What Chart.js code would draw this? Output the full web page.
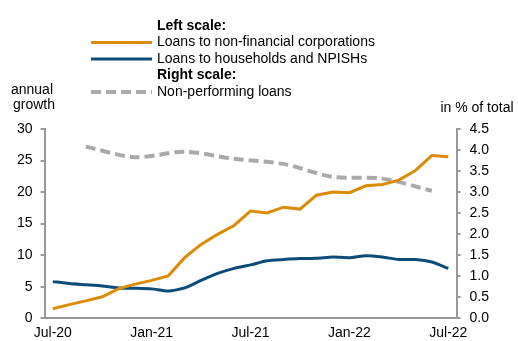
<!DOCTYPE html>
<html>
<head>
<meta charset="utf-8">
<script src="https://cdn.jsdelivr.net/npm/chart.js@4.4.0/dist/chart.umd.min.js"></script>
<style>
html,body{margin:0;padding:0;background:#fff;}
#wrap{width:518px;height:341px;position:relative;}
</style>
</head>
<body>
<div id="wrap"><canvas id="c" width="518" height="341"></canvas></div>
<script>
const months = ['Jul-20','Aug-20','Sep-20','Oct-20','Nov-20','Dec-20','Jan-21','Feb-21','Mar-21','Apr-21','May-21','Jun-21','Jul-21','Aug-21','Sep-21','Oct-21','Nov-21','Dec-21','Jan-22','Feb-22','Mar-22','Apr-22','May-22','Jun-22','Jul-22'];
const shownTicks = ['Jul-20','Jan-21','Jul-21','Jan-22','Jul-22'];
const loansNFC = [1.5,2.15,2.75,3.4,4.7,5.4,6.0,6.7,9.6,11.7,13.3,14.7,17.0,16.7,17.6,17.3,19.5,20.0,19.9,21.0,21.2,21.9,23.4,25.8,25.6];
const loansHH = [5.8,5.5,5.3,5.1,4.8,4.75,4.65,4.3,4.8,6.0,7.1,7.9,8.45,9.1,9.3,9.45,9.5,9.7,9.6,9.9,9.7,9.3,9.3,8.9,7.9];
const npl = [null,null,4.08,null,null,3.83,null,null,3.96,null,null,3.79,null,null,3.67,null,null,3.36,null,null,3.32,null,null,3.03,null];
const leftTicks = [0,5,10,15,20,25,30];
const rightTicks = [0,0.5,1,1.5,2,2.5,3,3.5,4,4.5];

const FONT = "'Liberation Sans', Arial, sans-serif";
const AXIS = '#999999';

const legendPlugin = {
  id: 'customLegend',
  afterDraw(chart) {
    const ctx = chart.ctx;
    const ds = chart.data.datasets;
    const rows = [
      {text: 'Left scale:', bold: true, y: 26},
      {ds: 0, y: 42.5},
      {ds: 1, y: 59},
      {text: 'Right scale:', bold: true, y: 75.5},
      {ds: 2, y: 92}
    ];
    ctx.save();
    ctx.textBaseline = 'middle';
    ctx.textAlign = 'left';
    ctx.fillStyle = '#000';
    rows.forEach(r => {
      if (r.ds !== undefined) {
        const d = ds[r.ds];
        ctx.save();
        ctx.strokeStyle = d.borderColor;
        ctx.lineWidth = d.borderWidth;
        ctx.setLineDash(d.borderDash || []);
        ctx.lineCap = 'butt';
        ctx.beginPath();
        ctx.moveTo(91, r.y);
        ctx.lineTo(152, r.y);
        ctx.stroke();
        ctx.restore();
        ctx.font = '14px ' + FONT;
        ctx.fillText(d.label, 157, r.y);
      } else {
        ctx.font = 'bold 14px ' + FONT;
        ctx.fillText(r.text, 157, r.y);
      }
    });
    ctx.font = '14px ' + FONT;
    ctx.textAlign = 'center';
    ctx.fillText('annual', 32, 90);
    ctx.fillText('growth', 34, 105);
    ctx.fillText('in % of total', 477, 108);
    ctx.restore();
  }
};

new Chart(document.getElementById('c'), {
  type: 'line',
  data: {
    labels: months,
    datasets: [
      {label: 'Loans to non-financial corporations', data: loansNFC, borderColor: '#DB8B06', borderWidth: 3, pointRadius: 0, tension: 0, yAxisID: 'y', order: 1},
      {label: 'Loans to households and NPISHs', data: loansHH, borderColor: '#0B4C78', borderWidth: 3, pointRadius: 0, tension: 0.2, yAxisID: 'y', order: 2},
      {label: 'Non-performing loans', data: npl, borderColor: '#AAAAAA', borderWidth: 4, borderDash: [10,5], pointRadius: 0, tension: 0.3, spanGaps: true, yAxisID: 'y1', order: 3}
    ]
  },
  options: {
    responsive: false,
    animation: false,
    events: [],
    layout: {padding: {top: 129, left: 9, right: 20, bottom: -8}},
    plugins: {legend: {display: false}, tooltip: {enabled: false}},
    scales: {
      x: {
        type: 'category',
        offset: true,
        grid: {display: false, drawTicks: false, offset: true},
        border: {display: true, color: AXIS, width: 2},
        ticks: {
          autoSkip: false, maxRotation: 0, minRotation: 0, padding: 7,
          color: '#000', font: {family: FONT, size: 14},
          callback: function(v, i) { const l = months[i]; return shownTicks.includes(l) ? l : ''; }
        }
      },
      y: {
        position: 'left', min: leftTicks[0], max: leftTicks[leftTicks.length-1],
        afterBuildTicks: s => { s.ticks = leftTicks.map(v => ({value: v})); },
        grid: {drawOnChartArea: false, drawTicks: true, tickLength: 4, color: AXIS, lineWidth: 2},
        border: {display: true, color: AXIS, width: 2},
        ticks: {padding: 8, color: '#000', font: {family: FONT, size: 14}}
      },
      y1: {
        position: 'right', min: rightTicks[0], max: rightTicks[rightTicks.length-1],
        afterBuildTicks: s => { s.ticks = rightTicks.map(v => ({value: v})); },
        grid: {drawOnChartArea: false, drawTicks: true, tickLength: 4, color: AXIS, lineWidth: 2},
        border: {display: true, color: AXIS, width: 2},
        ticks: {padding: 9, color: '#000', font: {family: FONT, size: 14}, callback: v => Number(v).toFixed(1)}
      }
    }
  },
  plugins: [legendPlugin]
});
</script>
</body>
</html>
